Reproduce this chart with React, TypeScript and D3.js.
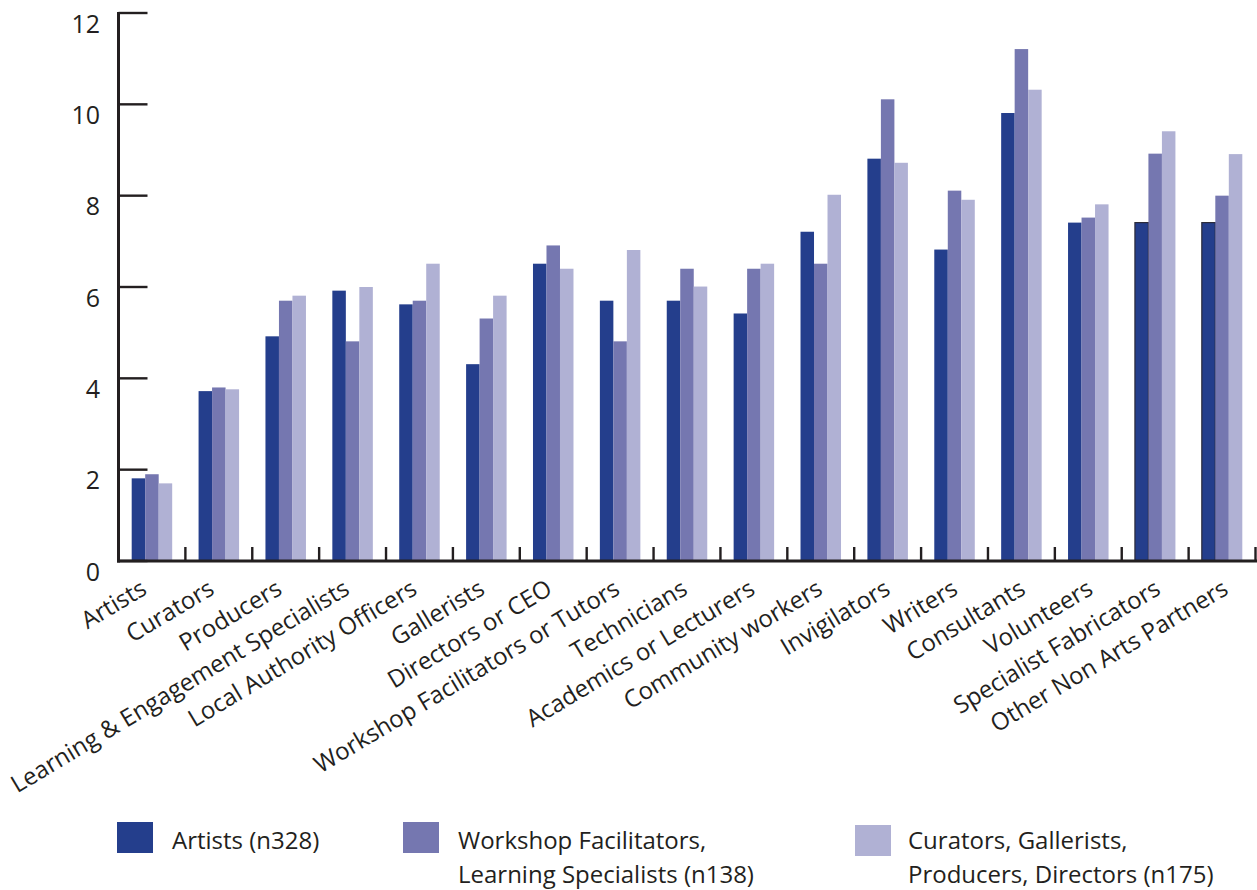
import React from "react";
import * as d3 from "d3";

const categories = [
  "Artists",
  "Curators",
  "Producers",
  "Learning & Engagement Specialists",
  "Local Authority Officers",
  "Gallerists",
  "Directors or CEO",
  "Workshop Facilitators or Tutors",
  "Technicians",
  "Academics or Lecturers",
  "Community workers",
  "Invigilators",
  "Writers",
  "Consultants",
  "Volunteers",
  "Specialist Fabricators",
  "Other Non Arts Partners",
];

const artists = [1.81, 3.72, 4.92, 5.92, 5.62, 4.31, 6.51, 5.7, 5.7, 5.42, 7.21, 8.81, 6.82, 9.81, 7.41, 7.41, 7.41];
const workshop = [1.9, 3.8, 5.7, 4.81, 5.7, 5.31, 6.91, 4.81, 6.4, 6.4, 6.51, 10.11, 8.11, 11.21, 7.52, 8.92, 8.0];
const curators = [1.7, 3.76, 5.81, 6.0, 6.51, 5.81, 6.4, 6.81, 6.01, 6.51, 8.02, 8.72, 7.91, 10.32, 7.81, 9.41, 8.91];

const seriesNames = ["Artists (n328)", "Workshop Facilitators, Learning Specialists (n138)", "Curators, Gallerists, Producers, Directors (n175)"];
const legendLines = [["Artists (n328)"], ["Workshop Facilitators,", "Learning Specialists (n138)"], ["Curators, Gallerists,", "Producers, Directors (n175)"]];
const yTicks = [0, 2, 4, 6, 8, 10, 12];
const outlinedCategories = ["Specialist Fabricators", "Other Non Arts Partners"];

const colors = ["#243e8c", "#7577b0", "#b0b1d4"];
const ink = "#231f20";
const font = "'Open Sans', sans-serif";

export default function App() {
  const W = 1257;
  const H = 890;
  const x0 = 118.5;
  const x1 = 1255.5;
  const yBase = 561;
  const yTop = 13;

  const x = d3.scaleBand<string>().domain(categories).range([x0, x1]).padding(0);
  const xLabel = d3.scaleBand<string>().domain(categories).range([x0 - 4, x1 + 8]).padding(0);
  const bw = x.bandwidth();
  const groupW = 40.5;
  const xs = d3
    .scaleBand<number>()
    .domain([0, 1, 2])
    .range([(bw - groupW) / 2, (bw + groupW) / 2])
    .padding(0);
  const y = d3.scaleLinear().domain([0, 12]).range([yBase, yTop]);

  const series = [artists, workshop, curators];

  const legendX = [117, 403, 855];
  const legendSqY = [822, 822, 825];
  const legendTextX = [172, 458, 908];

  return (
    <svg width={W} height={H} style={{ position: "absolute", left: 0, top: 0, background: "#fff" }}>
      {/* bars */}
      {categories.map((c, i) => (
        <g key={c} transform={`translate(${x(c)},0)`}>
          {series.map((s, k) => {
            const outlined = k === 0 && outlinedCategories.includes(c);
            return (
              <rect
                key={k}
                x={xs(k)!}
                y={y(s[i])}
                width={xs.bandwidth()}
                height={yBase - y(s[i])}
                fill={colors[k]}
                stroke={outlined ? "#2b2b3a" : "none"}
                strokeWidth={outlined ? 1.2 : 0}
              />
            );
          })}
        </g>
      ))}

      {/* y axis */}
      <line x1={x0} x2={x0} y1={yTop - 1} y2={yBase + 1.5} stroke={ink} strokeWidth={3} />
      {yTicks.map((t) => (
        <g key={t}>
          <line x1={x0} x2={x0 + 29} y1={y(t)} y2={y(t)} stroke={ink} strokeWidth={2.4} />
          <text
            x={100}
            y={y(t) + 19.5}
            textAnchor="end"
            fontFamily={font}
            fontSize={25}
            fill={ink}
          >
            {t}
          </text>
        </g>
      ))}

      {/* x axis */}
      <line x1={x0 - 1.5} x2={W} y1={yBase} y2={yBase} stroke={ink} strokeWidth={3} />
      {categories.map((c) => (
        <line
          key={"t" + c}
          x1={x(c)! + bw}
          x2={x(c)! + bw}
          y1={yBase}
          y2={yBase - 14}
          stroke={ink}
          strokeWidth={2.4}
        />
      ))}
      {categories.map((c) => {
        const cx = xLabel(c)! + xLabel.bandwidth() / 2;
        const cy = 593;
        return (
          <text
            key={"l" + c}
            transform={`translate(${cx},${cy}) rotate(-31)`}
            textAnchor="end"
            fontFamily={font}
            fontSize={24}
            fill={ink}
          >
            {c}
          </text>
        );
      })}

      {/* legend */}
      {seriesNames.map((n, k) => (
        <g key={n}>
          <rect x={legendX[k]} y={legendSqY[k]} width={36} height={31} fill={colors[k]} />
          {legendLines[k].map((ln, j) => (
            <text
              key={j}
              x={legendTextX[k]}
              y={849 + j * 34}
              fontFamily={font}
              fontSize={24}
              fill={ink}
            >
              {ln}
            </text>
          ))}
        </g>
      ))}
    </svg>
  );
}
